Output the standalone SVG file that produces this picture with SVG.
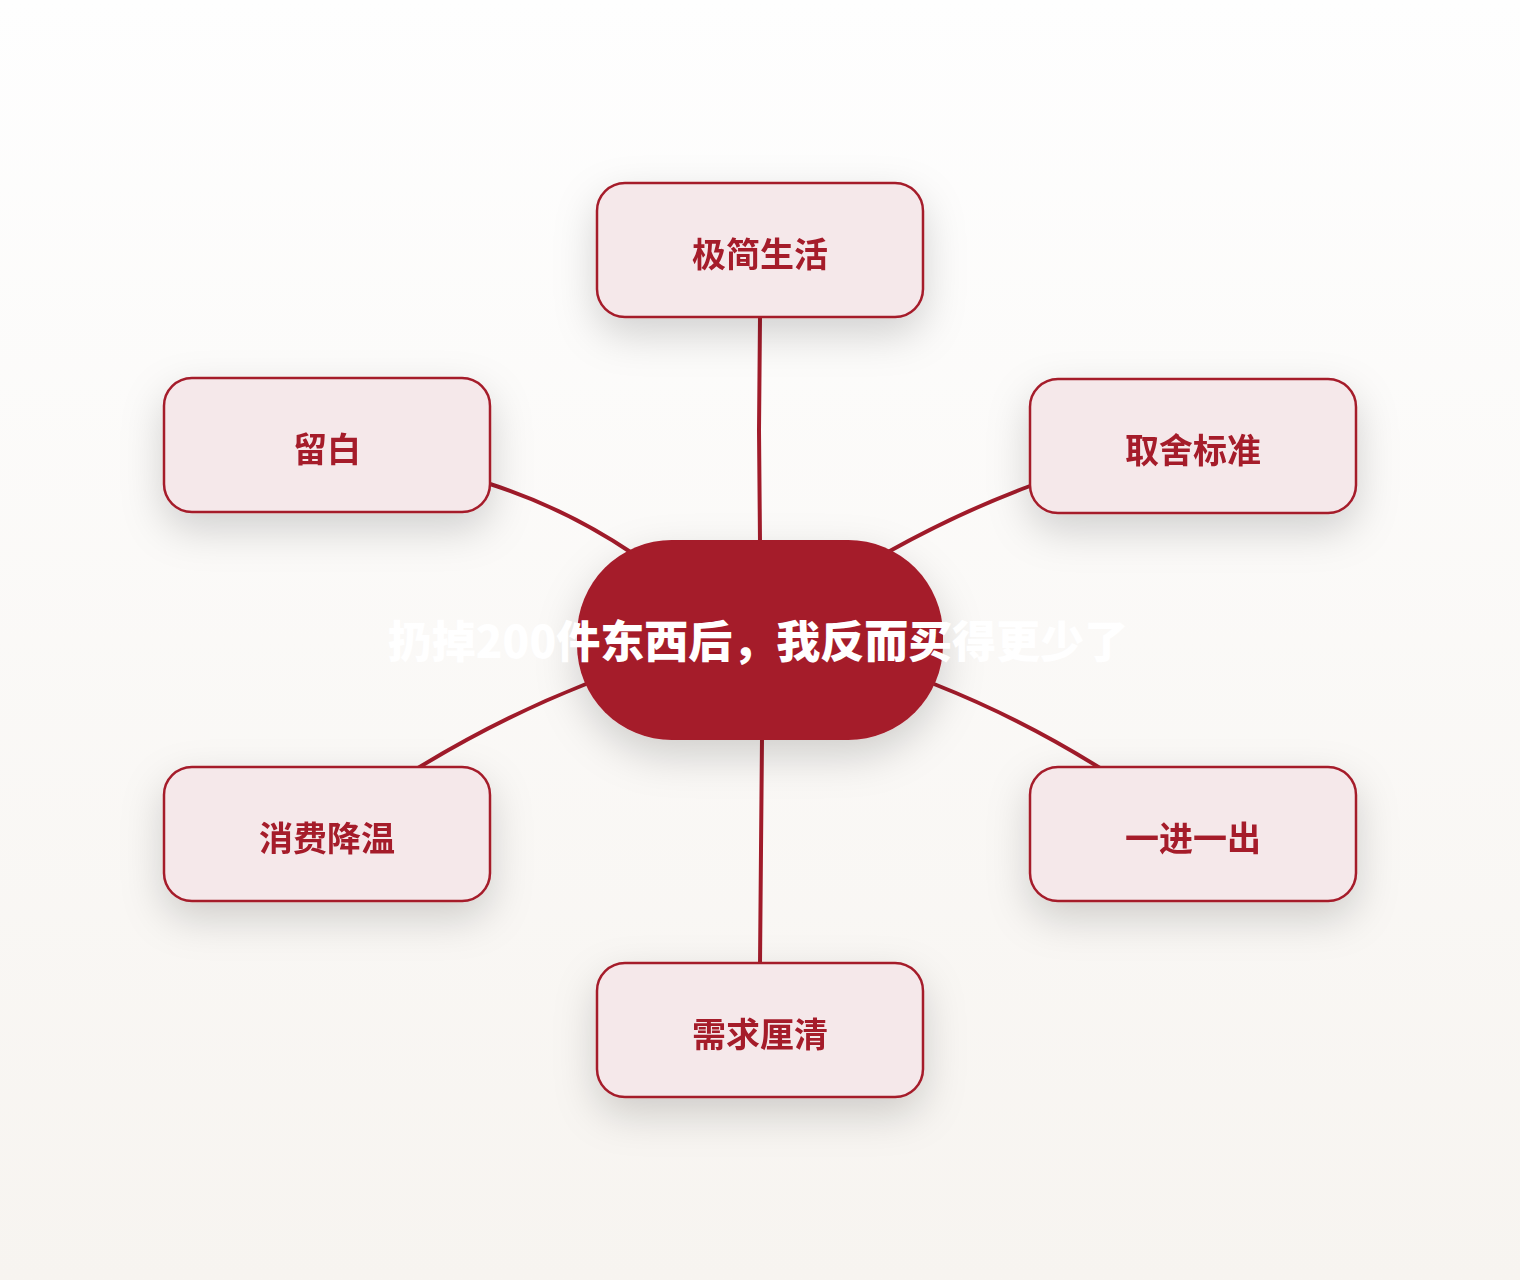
<svg xmlns="http://www.w3.org/2000/svg" width="1520" height="1280" viewBox="0 0 1520 1280">
<defs>
<linearGradient id="bg" x1="0" y1="0" x2="0" y2="1">
<stop offset="0" stop-color="#fefefe"/>
<stop offset="1" stop-color="#f7f4f0"/>
</linearGradient>
<filter id="sh" x="-50%" y="-50%" width="200%" height="220%">
<feDropShadow dx="0" dy="16" stdDeviation="20" flood-color="#000" flood-opacity="0.17"/>
</filter>
<style>
.sat rect{fill:#f5e8ea;stroke:#a51c2b;stroke-width:2.5}
.sat text{fill:#a51c2b;font-family:"Noto Sans CJK SC","Noto Sans",sans-serif;font-weight:700;font-size:34px;text-anchor:middle}
.conn path{fill:none;stroke:#a01b2a;stroke-width:4;stroke-linecap:round}
.center rect{fill:#a51b2b}
.center text{fill:#ffffff;font-family:"Noto Sans CJK SC","Noto Sans",sans-serif;font-weight:900;font-size:44px;text-anchor:middle}
</style>
</defs>
<rect width="1520" height="1280" fill="url(#bg)"/>
<g id="connectors" class="conn">
<path d="M760,317 L759,430 L760,542"/>
<path d="M490,484 Q565,508 632,553"/>
<path d="M1030,486 Q960,512 888,552"/>
<path d="M586,684 Q500,718 418,768"/>
<path d="M934,684 Q1020,718 1100,768"/>
<path d="M762,738 L761,850 L760,964"/>
</g>
<g id="node-top" class="sat" filter="url(#sh)">
<rect x="597" y="183" width="326" height="134" rx="28"/>
<text x="760" y="267">极简生活</text>
</g>
<g id="node-left-upper" class="sat" filter="url(#sh)">
<rect x="164" y="378" width="326" height="134" rx="28"/>
<text x="327" y="462">留白</text>
</g>
<g id="node-right-upper" class="sat" filter="url(#sh)">
<rect x="1030" y="379" width="326" height="134" rx="28"/>
<text x="1193" y="463">取舍标准</text>
</g>
<g id="node-left-lower" class="sat" filter="url(#sh)">
<rect x="164" y="767" width="326" height="134" rx="28"/>
<text x="327" y="851">消费降温</text>
</g>
<g id="node-right-lower" class="sat" filter="url(#sh)">
<rect x="1030" y="767" width="326" height="134" rx="28"/>
<text x="1193" y="851">一进一出</text>
</g>
<g id="node-bottom" class="sat" filter="url(#sh)">
<rect x="597" y="963" width="326" height="134" rx="28"/>
<text x="760" y="1047">需求厘清</text>
</g>
<g id="node-center" class="center">
<rect x="577" y="540" width="366" height="200" rx="95" filter="url(#sh)"/>
<text x="758" y="658">扔掉200件东西后，我反而买得更少了</text>
</g>
</svg>
